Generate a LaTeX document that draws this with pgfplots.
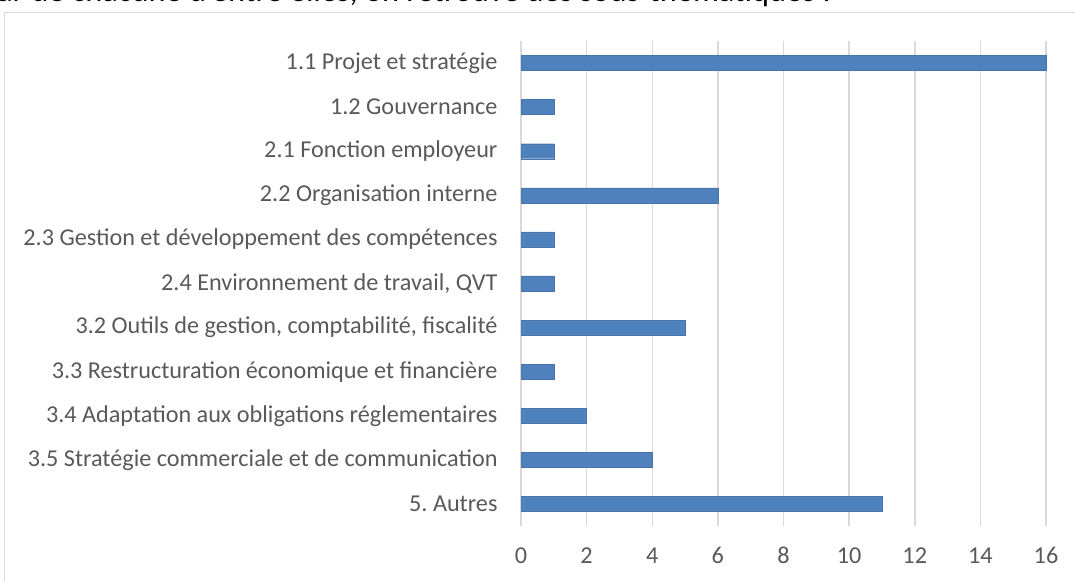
\documentclass[border=0pt]{standalone}
\usepackage{fontspec}
\setmainfont{Carlito}
\usepackage{pgfplots}
\pgfplotsset{compat=1.18}
\definecolor{barblue}{HTML}{4F81BD}
\definecolor{txtgray}{HTML}{595959}
\definecolor{gridgray}{HTML}{D9D9D9}
\pgfplotstableread[col sep=comma]{
idx,val
0,16
1,1
2,1
3,6
4,1
5,1
6,5
7,1
8,2
9,4
10,11
}\datatable
\frenchspacing
\begin{document}
\frenchspacing
\begin{tikzpicture}[x=1bp,y=1bp]
\useasboundingbox (0,0) rectangle (1075,581);
\clip (0,0) rectangle (1075,581);
\node[anchor=base west, inner sep=0pt, font=\fontsize{32.5}{36}\selectfont] at (-3,579) {ar de chacune d'entre elles, on retrouve des sous-thématiques :};
\draw[gridgray, line width=1.2bp] (4.5,-10) rectangle (1090,568.5);
\begin{axis}[
  at={(521bp,55bp)}, anchor=south west,
  scale only axis, width=525bp, height=485bp,
  xmin=0, xmax=16, ymin=-0.5, ymax=10.5,
  y dir=reverse,
  xbar, bar width=15bp,
  axis line style={draw=none},
  xtick={0,2,...,16},
  ytick={0,...,10},
  yticklabels={{1.1 Projet et stratégie},{1.2 Gouvernance},{2.1 Fonction employeur},{2.2 Organisation interne},{2.3 Gestion et développement des compétences},{2.4 Environnement de travail, QVT},{3.2 Outils de gestion, comptabilité, fiscalité},{3.3 Restructuration économique et financière},{3.4 Adaptation aux obligations réglementaires},{3.5 Stratégie commerciale et de communication},{5. Autres}},
  major tick length=0pt,
  xmajorgrids, grid style={gridgray, line width=1.5bp},
  ticklabel style={font=\fontsize{24.3}{28}\selectfont, text=txtgray},
  /pgf/number format/assume math mode=true,
  yticklabel style={anchor=east, xshift=-20bp},
  xticklabel style={anchor=north, text height=15bp, text depth=0pt, yshift=-19bp},
  clip=false,
]
\addplot[fill=barblue, draw=barblue!90!black, line width=0.4bp] table[x=val, y=idx] {\datatable};
\end{axis}
\end{tikzpicture}
\end{document}
